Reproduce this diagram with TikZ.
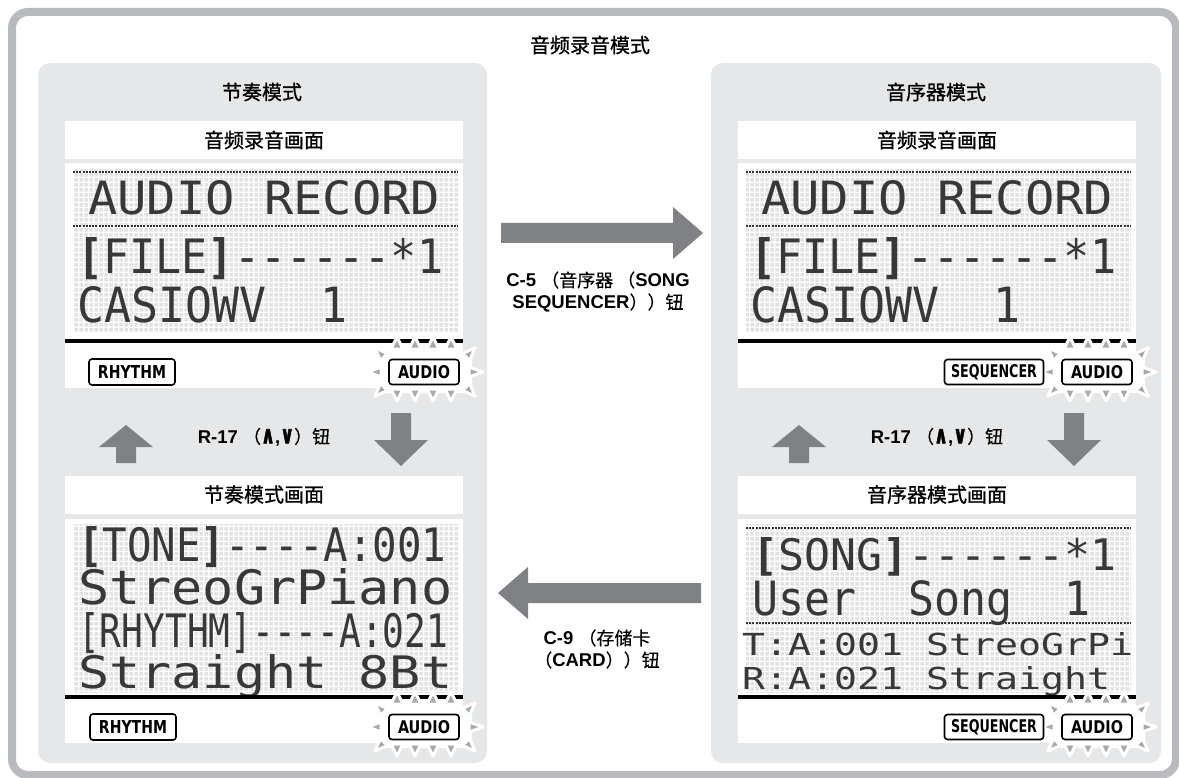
\documentclass[tikz,border=0pt]{standalone}
\usepackage{fontspec}
\setmainfont{Liberation Sans}
\newfontfamily\cjk{Noto Sans CJK SC}[FakeBold=0.4]
\newfontfamily\cjkt{Noto Sans CJK SC}[FakeBold=0.9]
\newfontfamily\lcdf{DejaVu Sans Mono}
\newfontfamily\lblf{DejaVu Sans}
\newfontfamily\symf{DejaVu Sans}[FakeBold=2.5]
\usepackage{graphicx}
\usetikzlibrary{patterns.meta}
\definecolor{bordc}{HTML}{B9BABD}
\definecolor{panelc}{HTML}{E6E7E8}
\definecolor{arrowc}{HTML}{808184}
\definecolor{flashc}{HTML}{A7A9AC}
\definecolor{dotc}{HTML}{E2E2E2}
\tikzdeclarepattern{name=lcdgrid, tile size={(4.6pt,4.6pt)}, bottom left={(0pt,0pt)}, top right={(4.6pt,4.6pt)}, code={\fill (0.5pt,0.5pt) rectangle (4.1pt,4.1pt);}}
\newcommand\lcdrow[5]{\node[anchor=base west, inner sep=0pt, text=black!78] (#1) at (#2) {\resizebox{#3pt}{#4pt}{\lcdf #5}};}
\newcommand\lbl[6]{\node[lblbox, minimum width=#3pt, minimum height=#4pt] (#1) at (#2) {\resizebox{#5pt}{13pt}{\lblf\bfseries #6}};}
\newcommand\cj[1]{{\cjk\mdseries\fontsize{18}{22}\selectfont #1}}
\newcommand\wedgev{\resizebox{14pt}{14pt}{\symf ∧},\resizebox{14pt}{14pt}{\symf ∨}}
\tikzset{
  titlestyle/.style={inner sep=0pt, font=\cjkt\fontsize{20}{24}\selectfont},
  hdr/.style={fill=white, minimum width=398pt, minimum height=38pt, inner sep=0pt, font=\cjkt\fontsize{20}{24}\selectfont},
  lcdbox/.style={fill=white, minimum width=398pt, minimum height=225pt, inner sep=0pt, anchor=north west},
  lcddots/.style={line width=2pt, dash pattern=on 2pt off 1.2pt, black!80},
  thick line/.style={line width=3.5pt, black},
  lblbox/.style={draw=black, line width=1.6pt, rounded corners=3pt, fill=white, inner sep=0pt},
  blockarrow/.style={fill=arrowc},
  keylabel/.style={inner sep=0pt, align=center, font=\bfseries\fontsize{18.5}{22}\selectfont},
  flash/.pic={
    \fill[white, rounded corners=4pt] (-45,-21) rectangle (48,21);
    \foreach \cx in {-27,-9,9,27}{
      \filldraw[flashc, draw=white, line width=3pt, line join=round] (\cx-6,-23) -- (\cx,-35) -- (\cx+6,-23) -- cycle;
      \filldraw[flashc, draw=white, line width=3pt, line join=round] (\cx-6,17) -- (\cx,29) -- (\cx+6,17) -- cycle;
    }
    \filldraw[flashc, draw=white, line width=3pt, line join=round] (-43,-5) -- (-56,0) -- (-43,5) -- cycle;
    \filldraw[flashc, draw=white, line width=3pt, line join=round] (45,-5) -- (59,0) -- (45,5) -- cycle;
    \filldraw[flashc, draw=white, line width=3pt, line join=round] (-36.5,-18.5) -- (-49.2,-24.2) -- (-43.5,-11.5) -- cycle;
    \filldraw[flashc, draw=white, line width=3pt, line join=round] (-43.5,11.5) -- (-49.2,24.2) -- (-36.5,18.5) -- cycle;
    \filldraw[flashc, draw=white, line width=3pt, line join=round] (38.5,-18.5) -- (51.2,-24.2) -- (45.5,-11.5) -- cycle;
    \filldraw[flashc, draw=white, line width=3pt, line join=round] (45.5,11.5) -- (51.2,24.2) -- (38.5,18.5) -- cycle;
  }
}
\begin{document}
\begin{tikzpicture}[x=1pt, y=-1pt]
\useasboundingbox (0,0) rectangle (1179,778);
\fill[white] (0,0) rectangle (1179,778);
% outer frame
\draw[bordc, line width=8pt, rounded corners=16pt] (12,12) rectangle (1176,775);
% panels
\fill[panelc, rounded corners=12pt] (38,63) rectangle (487,763);
\fill[panelc, rounded corners=12pt] (711,63) rectangle (1161,763);
% titles
\node[titlestyle] (maintitle) at (590,45) {音频录音模式};
\node[titlestyle] (lefttitle) at (262,92) {节奏模式};
\node[titlestyle] (righttitle) at (936,92) {音序器模式};
% headers
\node[hdr] (h1) at (264,140) {音频录音画面};
\node[hdr] (h2) at (264,494.5) {节奏模式画面};
\node[hdr] (h3) at (937,140) {音频录音画面};
\node[hdr] (h4) at (937,494.5) {音序器模式画面};
% lcd screens
\node[lcdbox] (s1) at (65,163) {};
\node[lcdbox, minimum height=224pt] (s2) at (65,519) {};
\node[lcdbox] (s3) at (738,163) {};
\node[lcdbox, minimum height=224pt] (s4) at (738,519) {};
\fill[pattern=lcdgrid, pattern color=dotc] (73,170) rectangle (458,333);
\fill[pattern=lcdgrid, pattern color=dotc] (746,170) rectangle (1131,333);
\fill[pattern=lcdgrid, pattern color=dotc] (73,524) rectangle (458,692);
\fill[pattern=lcdgrid, pattern color=dotc] (746,524) rectangle (1131,692);
% dotted separators
\draw[lcddots] (73,172) -- (458,172);
\draw[lcddots] (73,226) -- (458,226);
\draw[lcddots] (746,172) -- (1131,172);
\draw[lcddots] (746,226) -- (1131,226);
\draw[lcddots] (746,528) -- (1131,528);
\draw[lcddots] (746,623) -- (1131,623);
% rows top-left
\lcdrow{r1}{88,215}{352}{34}{AUDIO RECORD}
\lcdrow{r2}{77,273}{366}{36}{{\bfseries[}FILE{\bfseries]}------*1}
\lcdrow{r3}{77,323}{270}{36}{CASIOWV\ \ 1}
% rows top-right
\lcdrow{q1}{761,215}{352}{34}{AUDIO RECORD}
\lcdrow{q2}{750,273}{366}{36}{{\bfseries[}FILE{\bfseries]}------*1}
\lcdrow{q3}{750,323}{270}{36}{CASIOWV\ \ 1}
% rows bottom-left
\lcdrow{b1}{78,561}{368}{35}{{\bfseries[}TONE{\bfseries]}----A:001}
\lcdrow{b2}{78,604}{374}{36}{StreoGrPiano}
\lcdrow{b3}{78,647}{370}{35}{[RHYTHM]----A:021}
\lcdrow{b4}{78,688}{374}{34}{Straight 8Bt}
% rows bottom-right
\lcdrow{c1}{752,570}{364}{33}{{\bfseries[}SONG{\bfseries]}------*1}
\lcdrow{c2}{752,615}{338}{35}{User\ \ Song\ \ 1}
\lcdrow{c3}{742,655}{391}{23}{T:A:001 StreoGrPi}
\lcdrow{c4}{742,689}{368}{23}{R:A:021 Straight}
% thick lines
\draw[thick line] (65,341) -- (463,341);
\draw[thick line] (738,341) -- (1136,341);
\draw[thick line] (65,697) -- (463,697);
\draw[thick line] (738,697) -- (1136,697);
% flashes
\pic at (424,372) {flash};
\pic at (1097,372) {flash};
\pic at (424,727) {flash};
\pic at (1097,727) {flash};
% indicator boxes
\lbl{rh1}{132,372}{86}{26}{68}{RHYTHM}
\lbl{rh2}{133,727}{86}{26}{68}{RHYTHM}
\lbl{au1}{424,372}{70}{25}{52}{AUDIO}
\lbl{au2}{424,727}{70}{25}{52}{AUDIO}
\lbl{au3}{1097,372}{70}{25}{52}{AUDIO}
\lbl{au4}{1097,727}{70}{25}{52}{AUDIO}
\lbl{sq1}{994,372}{99}{25}{86}{SEQUENCER}
\lbl{sq2}{994,727}{99}{25}{86}{SEQUENCER}
% block arrows
\fill[blockarrow] (501,223) -- (673,223) -- (673,207) -- (703,233) -- (673,259) -- (673,243) -- (501,243) -- cycle;
\fill[blockarrow] (701,583) -- (528,583) -- (528,567) -- (498,593) -- (528,619) -- (528,603) -- (701,603) -- cycle;
\fill[blockarrow] (116,463) -- (116,447) -- (99,447) -- (126,425) -- (153,447) -- (136,447) -- (136,463) -- cycle;
\fill[blockarrow] (391,413) -- (411,413) -- (411,440) -- (428,440) -- (401,466) -- (374,440) -- (391,440) -- cycle;
\fill[blockarrow] (789,463) -- (789,447) -- (772,447) -- (799,425) -- (826,447) -- (809,447) -- (809,463) -- cycle;
\fill[blockarrow] (1064,413) -- (1084,413) -- (1084,440) -- (1101,440) -- (1074,466) -- (1047,440) -- (1064,440) -- cycle;
% key labels
\node[keylabel] (k1) at (264,437) {R-17 \cj{（}\wedgev\cj{）钮}};
\node[keylabel] (k2) at (937,437) {R-17 \cj{（}\wedgev\cj{）钮}};
\node[keylabel] (k3) at (598,292) {C-5 \cj{（音序器 （}SONG\\SEQUENCER\cj{））钮}};
\node[keylabel] (k4) at (597,649) {C-9 \cj{（存储卡}\\\cj{（}CARD\cj{））钮}};
\end{tikzpicture}
\end{document}
